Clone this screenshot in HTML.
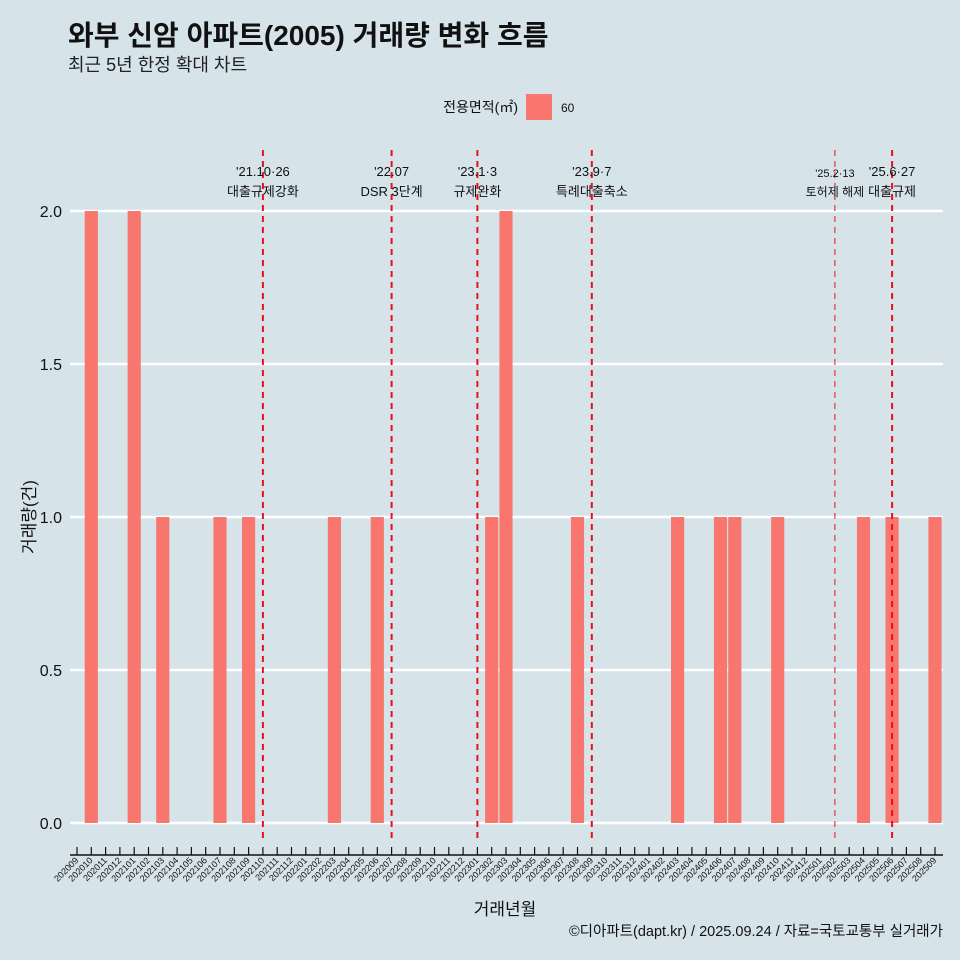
<!DOCTYPE html>
<html><head><meta charset="utf-8"><style>
body{margin:0;background:#d6e4ea;}
svg{display:block;font-family:"Liberation Sans","Noto Sans CJK KR",sans-serif;}
</style></head><body>
<svg id="c" width="960" height="960">
<rect width="960" height="960" fill="#d6e4ea"/>
<text x="68" y="45" font-size="28" font-weight="bold" fill="#111">와부 신암 아파트(2005) 거래량 변화 흐름</text>
<text x="68" y="71" font-size="18" fill="#222">최근 5년 한정 확대 차트</text>
<g>
<text x="518" y="112" font-size="14" text-anchor="end" fill="#111">전용면적(㎡)</text>
<rect x="526" y="94" width="26" height="26" fill="#f8766d"/>
<text x="561" y="112" font-size="12" fill="#111">60</text>
</g>
<g id="grid"></g><g id="bars"></g><g id="events"></g><g id="axes"></g>
<text x="505" y="915" font-size="17" text-anchor="middle" fill="#111">거래년월</text>
<text transform="translate(35,517) rotate(-90)" font-size="17" text-anchor="middle" fill="#111">거래량(건)</text>
<text x="943" y="936" font-size="14.5" text-anchor="end" fill="#111">©디아파트(dapt.kr) / 2025.09.24 / 자료=국토교통부 실거래가</text>
</svg>
<script>
const categories=[];for(let y=2020,m=9;y*100+m<=202509;){categories.push(String(y*100+m).replace(/^(\d{4})(\d)$/,'$10$2'));m++;if(m>12){m=1;y++;}}
const barMonths=["202010","202101","202103","202107","202109","202203","202206","202302","202303","202308","202403","202406","202407","202410","202504","202506","202509"];
const barValues=[2,2,1,1,1,1,1,1,2,1,1,1,1,1,1,1,1];
const yTicks=[0,0.5,1,1.5,2];
const yTickLabels=["0.0","0.5","1.0","1.5","2.0"];
const eventMonths=["202110","202207","202301","202309","202502","202506"];
const eventLine1=["'21.10·26","'22.07","'23.1·3","'23.9·7","'25.2·13","'25.6·27"];
const eventLine2=["대출규제강화","DSR 3단계","규제완화","특례대출축소","토허제 해제","대출규제"];
const eventThin=[false,false,false,false,true,false];
const NS="http://www.w3.org/2000/svg";
function mk(t,a,p){const e=document.createElementNS(NS,t);for(const k in a)e.setAttribute(k,a[k]);p.appendChild(e);return e;}
const X0=77,X1=935,Y0=823,Y2=211;
const step=(X1-X0)/(categories.length-1);
const xs=c=>X0+categories.indexOf(c)*step;
const ys=v=>Y0+(Y2-Y0)*v/2;
const grid=document.getElementById('grid'),bars=document.getElementById('bars'),ev=document.getElementById('events'),ax=document.getElementById('axes');
yTicks.forEach((v,i)=>{
 const l=mk('line',{x1:70,x2:943,y1:ys(v),y2:ys(v),stroke:'#fff','stroke-width':2.5},grid);
 
 
 const t=mk('text',{x:62,y:ys(v)+6,'font-size':16,'text-anchor':'end',fill:'#111'},ax);
 t.textContent=yTickLabels[i];
 
 
});
const bw=step*0.92;
barMonths.forEach((m,i)=>{
 const r=mk('rect',{x:xs(m)-bw/2,y:ys(barValues[i]),width:bw,height:Y0-ys(barValues[i]),fill:'#f8766d'},bars);
 
 
});
eventMonths.forEach((m,i)=>{
 const x=xs(m);
 const l=mk('line',{x1:x,x2:x,y1:150,y2:843,stroke:'#e8101a','stroke-width':eventThin[i]?1:2,'stroke-dasharray':'6,5'},ev);
 
 
 const fs=eventThin[i]?11:13;
 const t1=mk('text',{x:x,y:eventThin[i]?177:176,'font-size':fs,'text-anchor':'middle',fill:'#111'},ev);
 t1.textContent=eventLine1[i];
 
 
 const t2=mk('text',{x:x,y:196,'font-size':eventThin[i]?12:13,'text-anchor':'middle',fill:'#111'},ev);
 t2.textContent=eventLine2[i];
 
 
});
const al=mk('line',{x1:70,x2:943,y1:855,y2:855,stroke:'#111','stroke-width':1.5},ax);


categories.forEach(c=>{
 const x=xs(c);
 const tk=mk('line',{x1:x,x2:x,y1:847,y2:855,stroke:'#111','stroke-width':1.2},ax);
 
 
 const t=mk('text',{transform:`translate(${x+2},${861}) rotate(-45)`,'font-size':9,'text-anchor':'end',fill:'#111'},ax);
 t.textContent=c;
 
 
});
</script>
</body></html>
